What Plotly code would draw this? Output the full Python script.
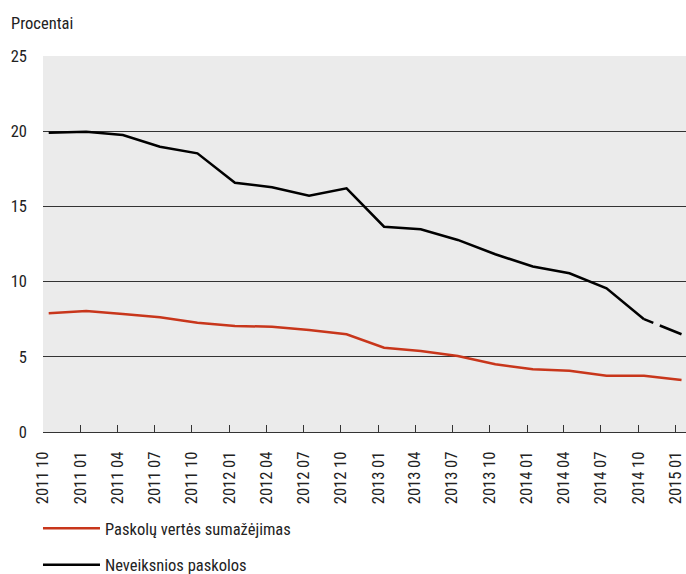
import plotly.graph_objects as go

# Observation dates (mid-month of each quarter)
dates = ["2010-10-15", "2011-01-15", "2011-04-15", "2011-07-15", "2011-10-15",
         "2012-01-15", "2012-04-15", "2012-07-15", "2012-10-15", "2013-01-15",
         "2013-04-15", "2013-07-15", "2013-10-15", "2014-01-15", "2014-04-15",
         "2014-07-15", "2014-10-15", "2015-01-15"]

# Tick positions and labels (as printed on the chart)
tick_dates = ["2010-10-01", "2011-01-01", "2011-04-01", "2011-07-01", "2011-10-01",
              "2012-01-01", "2012-04-01", "2012-07-01", "2012-10-01", "2013-01-01",
              "2013-04-01", "2013-07-01", "2013-10-01", "2014-01-01", "2014-04-01",
              "2014-07-01", "2014-10-01", "2015-01-01"]
tick_labels = ["2011 10", "2011 01", "2011 04", "2011 07", "2011 10",
               "2012 01", "2012 04", "2012 07", "2012 10", "2013 01",
               "2013 04", "2013 07", "2013 10", "2014 01", "2014 04",
               "2014 07", "2014 10", "2015 01"]

impairment = [7.89, 8.04, 7.85, 7.63, 7.27, 7.05, 7.0, 6.78, 6.5, 5.6,
              5.39, 5.05, 4.5, 4.17, 4.08, 3.74, 3.74, 3.46]
nonperforming = [19.9, 19.97, 19.75, 18.97, 18.53, 16.57, 16.27, 15.71, 16.2, 13.65,
                 13.48, 12.77, 11.82, 11.0, 10.55, 9.55, 7.5, 6.5]

name_red = "Paskolų vertės sumažėjimas"
name_black = "Neveiksnios paskolos"

FONT = "Liberation Sans Narrow, Roboto Condensed, Arial Narrow, Roboto, sans-serif"
FS = 16.5
RED = "#C8361B"
TXT = "#222222"

fig = go.Figure()
fig.add_trace(go.Scatter(x=dates, y=impairment, mode="lines", name=name_red,
                         line=dict(color=RED, width=2.5), legendgroup="a"))
fig.add_trace(go.Scatter(x=dates[:-1], y=nonperforming[:-1], mode="lines", name=name_black,
                         line=dict(color="#000000", width=2.5), legendgroup="b"))
fig.add_trace(go.Scatter(x=dates[-2:], y=nonperforming[-2:], mode="lines", name=name_black,
                         line=dict(color="#000000", width=2.5, dash="10px,7px,40px"),
                         legendgroup="b", showlegend=False))

fig.update_layout(
    width=686, height=574,
    margin=dict(l=43, r=0, t=56, b=142, autoexpand=False),
    paper_bgcolor="white", plot_bgcolor="#EBEBEB",
    font=dict(family=FONT, size=FS, color=TXT),
    showlegend=True,
    legend=dict(orientation="v", x=-0.0078, xanchor="left", y=-0.21, yanchor="top",
                font=dict(family=FONT, size=FS, color=TXT),
                tracegroupgap=12, itemwidth=57, bgcolor="rgba(0,0,0,0)"),
    xaxis=dict(type="date", range=["2010-10-01", "2015-01-26"], automargin=False,
               tickmode="array", tickvals=tick_dates, ticktext=tick_labels,
               tickangle=-90, ticks="inside", ticklen=7, tickcolor="#333333",
               ticklabelstandoff=12,
               showgrid=False, showline=True, linecolor="#333333", linewidth=1,
               tickfont=dict(family=FONT, size=FS, color=TXT),
               zeroline=False),
    yaxis=dict(range=[0, 25], tickvals=[0, 5, 10, 15, 20, 25], automargin=False,
               showgrid=True, gridcolor="#333333", gridwidth=1,
               zeroline=False, showline=False, ticks="",
               ticklabelstandoff=15,
               tickfont=dict(family=FONT, size=FS, color=TXT)),
    annotations=[dict(text="Procentai", xref="paper", yref="paper", x=0, y=1,
                      xanchor="left", yanchor="middle", xshift=-34, yshift=33,
                      showarrow=False, font=dict(family=FONT, size=FS, color=TXT))],
)

fig.write_html("out.html", config={"displayModeBar": False},
               post_script="document.body.style.margin='0';document.body.style.overflow='hidden';")
